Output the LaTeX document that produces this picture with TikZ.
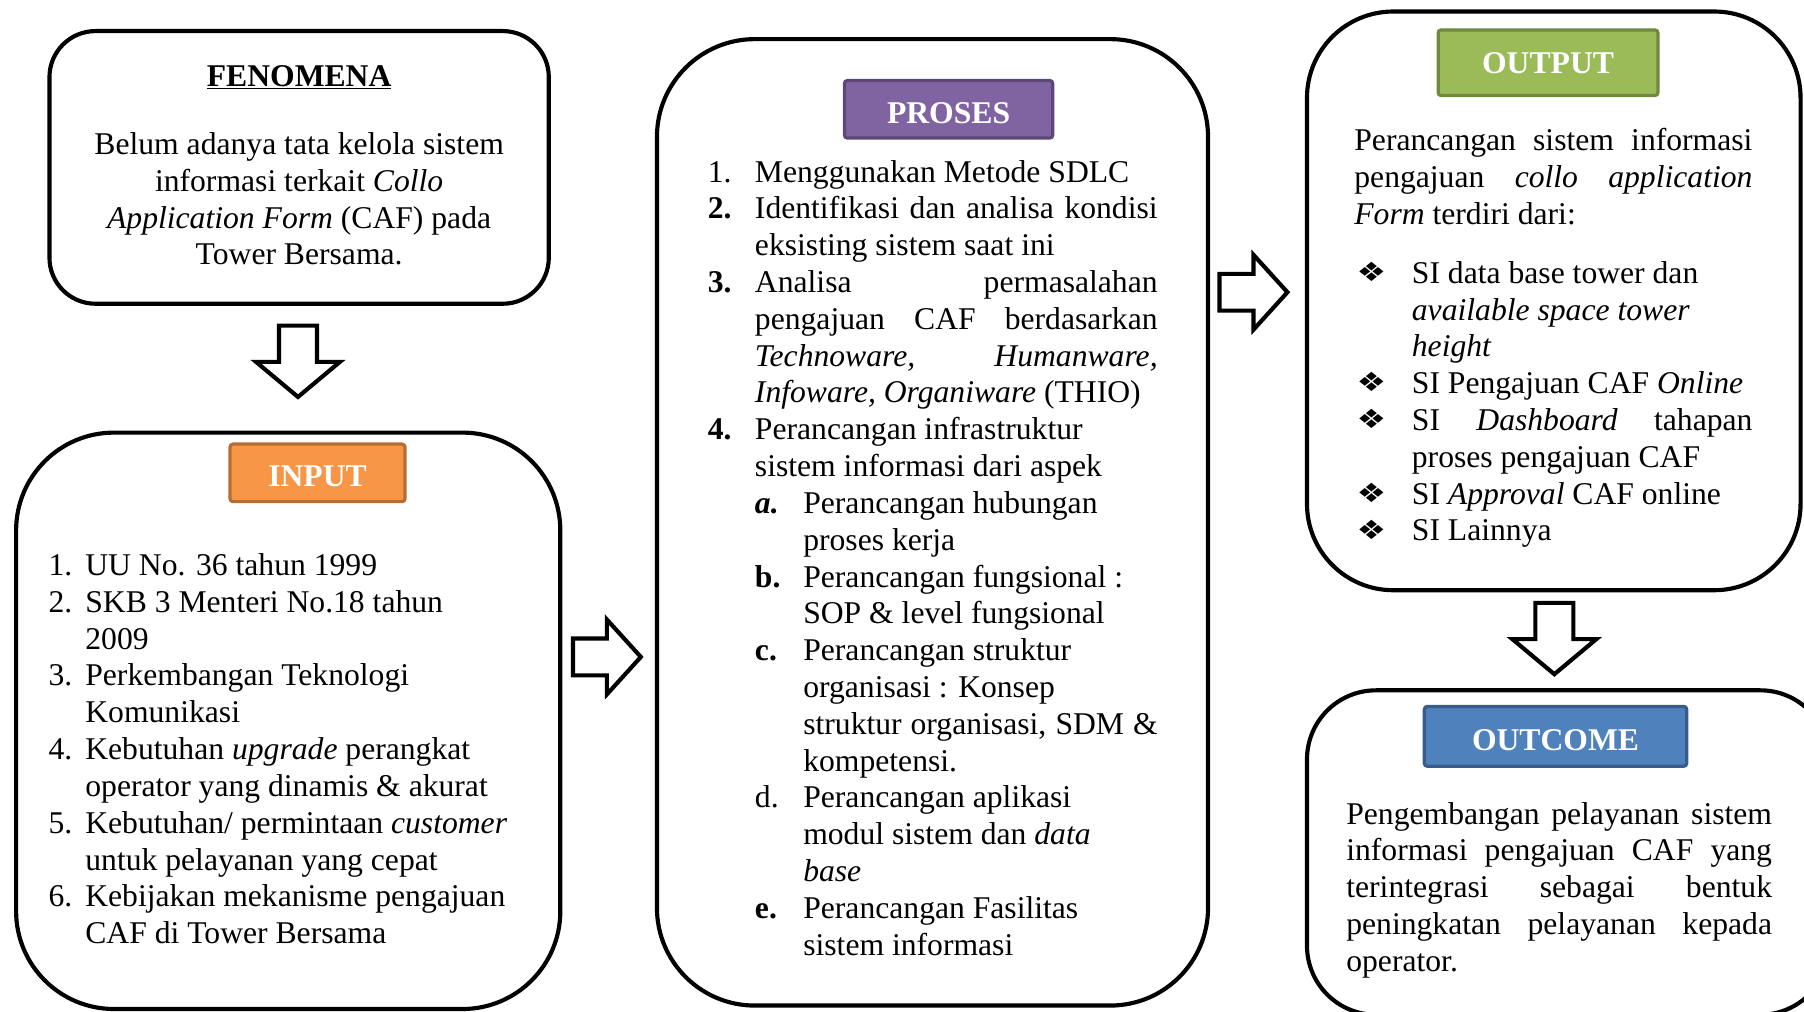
\documentclass[tikz,border=0pt]{standalone}
\usepackage{fontspec}
\usepackage{graphicx}
\setmainfont{Liberation Serif}
\newfontfamily\dingfont{DejaVu Sans}
\definecolor{inputfill}{HTML}{F79646}
\definecolor{inputline}{HTML}{B66D31}
\definecolor{prosesfill}{HTML}{8064A2}
\definecolor{prosesline}{HTML}{5C4776}
\definecolor{outputfill}{HTML}{9BBB59}
\definecolor{outputline}{HTML}{71893F}
\definecolor{outcomefill}{HTML}{4F81BD}
\definecolor{outcomeline}{HTML}{385D8A}
\newcommand\bodysize{\fontsize{27.5}{32}\selectfont}
% bullet used in the output list
\newcommand\dia{\makebox[50pt][l]{\hspace{2pt}\raisebox{1.5pt}{\scalebox{1.25}[1]{\dingfont\fontsize{23}{23}\selectfont ❖}}}}
\begin{document}
\begin{tikzpicture}[x=1pt, y=-1pt,
  bigbox/.style={draw, line width=3.6pt, inner sep=0pt},
  tag/.style={draw, line width=2.8pt, rounded corners=2.5pt, inner sep=0pt,
    text=white, font=\bodysize\bfseries, text height=24pt, text depth=0pt},
  body/.style={inner sep=0pt, font=\bodysize, align=left, anchor=north west},
  blockarrow/.style={draw, line width=3.6pt, fill=white, line join=miter},
  downblock/.pic={\draw[blockarrow] (-16.5,0) -- (16.5,0) -- (16.5,31.5) -- (36.5,31.5)
     -- (0,62) -- (-36.5,31.5) -- (-16.5,31.5) -- cycle;},
  rightblock/.pic={\draw[blockarrow] (0,-16) -- (29.5,-16) -- (29.5,-32.5) -- (59,0)
     -- (29.5,32.5) -- (29.5,16) -- (0,16) -- cycle;}
]
\useasboundingbox (0,0) rectangle (1568,879);

% ---------- main boxes ----------
\node[bigbox, rounded corners=40pt, minimum width=434pt, minimum height=237pt] (fen) at (260,145.5) {};
\node[bigbox, rounded corners=85pt, minimum width=473pt, minimum height=501pt] (inp) at (250.5,626.5) {};
\node[bigbox, rounded corners=85pt, minimum width=479pt, minimum height=840pt] (pro) at (810.5,454) {};
\node[bigbox, rounded corners=75pt, minimum width=429pt, minimum height=503pt] (outp) at (1350.5,261.5) {};
\node[bigbox, rounded corners=60pt, minimum width=454pt, minimum height=282pt] (outc) at (1363,741) {};

% ---------- block arrows between the stages ----------
\pic at (259,283) {downblock};
\pic at (498,571) {rightblock};
\pic at (1060,254) {rightblock};
\pic at (1351,524) {downblock};

% ---------- coloured headings ----------
\node[tag, fill=inputfill, draw=inputline, minimum width=152pt, minimum height=50pt] (inptag) at (276,411) {INPUT};
\node[tag, fill=prosesfill, draw=prosesline, minimum width=181pt, minimum height=50pt] (protag) at (824.5,95) {PROSES};
\node[tag, fill=outputfill, draw=outputline, minimum width=191pt, minimum height=57pt, text height=18.5pt] (outptag) at (1345.5,54.5) {OUTPUT};
\node[tag, fill=outcomefill, draw=outcomeline, minimum width=228pt, minimum height=52pt] (outctag) at (1352,640) {OUTCOME};

% ---------- FENOMENA ----------
\node[inner sep=0pt, font=\bodysize\bfseries, anchor=base] (fentitle) at (260,75) {\underline{FENOMENA}};
\node[body, align=center, anchor=north] (fentext) at (260,111.6) {\strut Belum adanya tata kelola sistem\\
informasi terkait \textit{Collo}\\
\textit{Application Form} (CAF) pada\\
Tower Bersama.};

% ---------- INPUT list ----------
\node[body] (inptext) at (42,477.6) {\strut\makebox[32pt][l]{1.}UU No. 36 tahun 1999\\
\makebox[32pt][l]{2.}SKB 3 Menteri No.18 tahun\\
\hspace*{32pt}2009\\
\makebox[32pt][l]{3.}Perkembangan Teknologi\\
\hspace*{32pt}Komunikasi\\
\makebox[32pt][l]{4.}Kebutuhan \textit{upgrade} perangkat\\
\hspace*{32pt}operator yang dinamis \& akurat\\
\makebox[32pt][l]{5.}Kebutuhan/ permintaan \textit{customer}\\
\hspace*{32pt}untuk pelayanan yang cepat\\
\makebox[32pt][l]{6.}Kebijakan mekanisme pengajuan\\
\hspace*{32pt}CAF di Tower Bersama};

% ---------- PROSES list ----------
\node[body] (protext) at (615,135.6) {\strut\makebox[41pt][l]{1.}Menggunakan Metode SDLC\\
\makebox[41pt][l]{\textbf{2.}}\makebox[350pt][s]{Identifikasi dan analisa kondisi}\\
\hspace*{41pt}eksisting sistem saat ini\\
\makebox[41pt][l]{\textbf{3.}}\makebox[350pt][s]{Analisa permasalahan}\\
\hspace*{41pt}\makebox[350pt][s]{pengajuan CAF berdasarkan}\\
\hspace*{41pt}\makebox[350pt][s]{\textit{Technoware,} \textit{Humanware,}}\\
\hspace*{41pt}\textit{Infoware, Organiware} (THIO)\\
\makebox[41pt][l]{\textbf{4.}}Perancangan infrastruktur\\
\hspace*{41pt}sistem informasi dari aspek\\
\hspace*{41pt}\makebox[42pt][l]{\textbf{\textit{a.}}}Perancangan hubungan\\
\hspace*{83pt}proses kerja\\
\hspace*{41pt}\makebox[42pt][l]{\textbf{b.}}Perancangan fungsional :\\
\hspace*{83pt}SOP \& level fungsional\\
\hspace*{41pt}\makebox[42pt][l]{\textbf{c.}}Perancangan struktur\\
\hspace*{83pt}organisasi : Konsep\\
\hspace*{83pt}\makebox[308pt][s]{struktur organisasi, SDM \&}\\
\hspace*{83pt}kompetensi.\\
\hspace*{41pt}\makebox[42pt][l]{d.}Perancangan aplikasi\\
\hspace*{83pt}modul sistem dan \textit{data}\\
\hspace*{83pt}\textit{base}\\
\hspace*{41pt}\makebox[42pt][l]{\textbf{e.}}Perancangan Fasilitas\\
\hspace*{83pt}sistem informasi};

% ---------- OUTPUT ----------
\node[body] (outptext) at (1177,108.6) {\strut\makebox[346pt][s]{Perancangan sistem informasi}\\
\makebox[346pt][s]{pengajuan \textit{collo} \textit{application}}\\
\textit{Form} terdiri dari:};
\node[body] (outplist) at (1177,223.6) {\strut\dia SI data base tower dan\\
\hspace*{50pt}\textit{available space tower}\\
\hspace*{50pt}\textit{height}\\
\dia SI Pengajuan CAF \textit{Online}\\
\dia\makebox[296pt][s]{SI \textit{Dashboard} tahapan}\\
\hspace*{50pt}proses pengajuan CAF\\
\dia SI \textit{Approval} CAF online\\
\dia SI Lainnya};

% ---------- OUTCOME ----------
\node[body] (outctext) at (1170,693.6) {\strut\makebox[370pt][s]{Pengembangan pelayanan sistem}\\
\makebox[370pt][s]{informasi pengajuan CAF yang}\\
\makebox[370pt][s]{terintegrasi sebagai bentuk}\\
\makebox[370pt][s]{peningkatan pelayanan kepada}\\
operator.};
\end{tikzpicture}
\end{document}
